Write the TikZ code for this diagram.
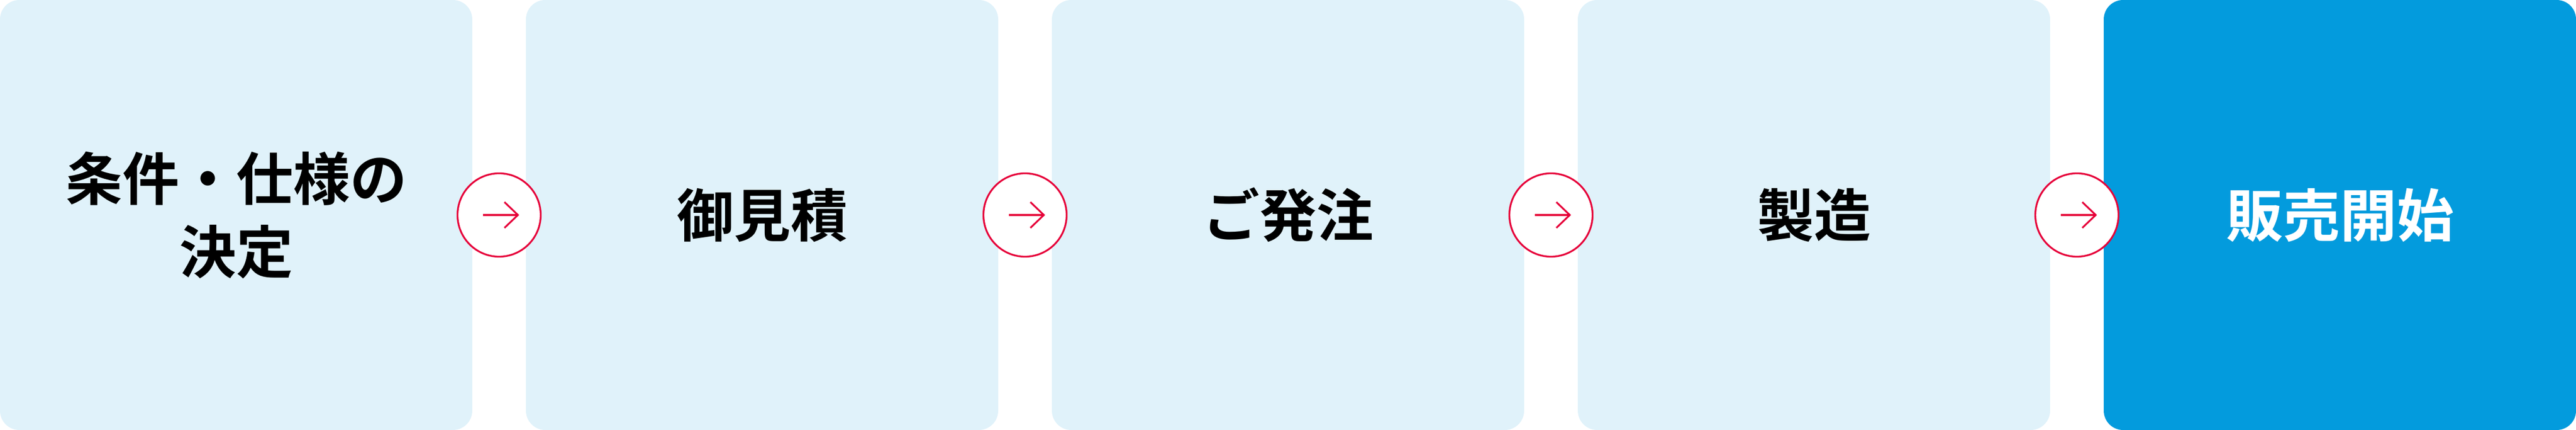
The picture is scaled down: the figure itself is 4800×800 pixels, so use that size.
\documentclass[tikz,border=0pt]{standalone}
\usepackage{fontspec}
\newfontfamily\jp{Noto Sans CJK JP Bold}
\usetikzlibrary{calc}
\definecolor{lightbox}{HTML}{E0F2FA}
\definecolor{darkbox}{HTML}{039BDD}
\definecolor{arrowred}{HTML}{E6003A}
\tikzset{
  stepbox/.style={fill=lightbox, rounded corners=36pt},
  lastbox/.style={fill=darkbox, rounded corners=36pt},
  steptext/.style={font=\jp\fontsize{106}{136}\selectfont, align=center, text=black, inner sep=0pt},
  lasttext/.style={steptext, text=white},
  ring/.style={circle, draw=arrowred, fill=white, line width=3.3pt, minimum size=155pt, inner sep=0pt},
  arrowline/.style={draw=arrowred, line width=3.3pt}
}
\begin{document}
\begin{tikzpicture}[x=1pt,y=1pt]
\useasboundingbox (0,0) rectangle (4800,800);
\path[stepbox] (0,0) rectangle (880,800);
\path[stepbox] (980,0) rectangle (1860,800);
\path[stepbox] (1960,0) rectangle (2840,800);
\path[stepbox] (2940,0) rectangle (3820,800);
\path[lastbox] (3920,0) rectangle (4800,800);
\node[steptext] (t1) at (440,400) {条件・仕様の\\決定};
\node[steptext] (t2) at (1420,400) {御見積};
\node[steptext] (t3) at (2400,400) {ご発注};
\node[steptext] (t4) at (3380,400) {製造};
\node[lasttext] (t5) at (4360,400) {販売開始};
\foreach \i/\x in {1/930,2/1910,3/2890,4/3870}{
  \node[ring] (c\i) at (\x,400) {};
  \draw[arrowline] ($(c\i)+(-30,0)$) -- ($(c\i)+(36,0)$);
  \draw[arrowline, line join=miter] ($(c\i)+(10,24)$) -- ($(c\i)+(35,0)$) -- ($(c\i)+(10,-24)$);
}
\end{tikzpicture}
\end{document}
